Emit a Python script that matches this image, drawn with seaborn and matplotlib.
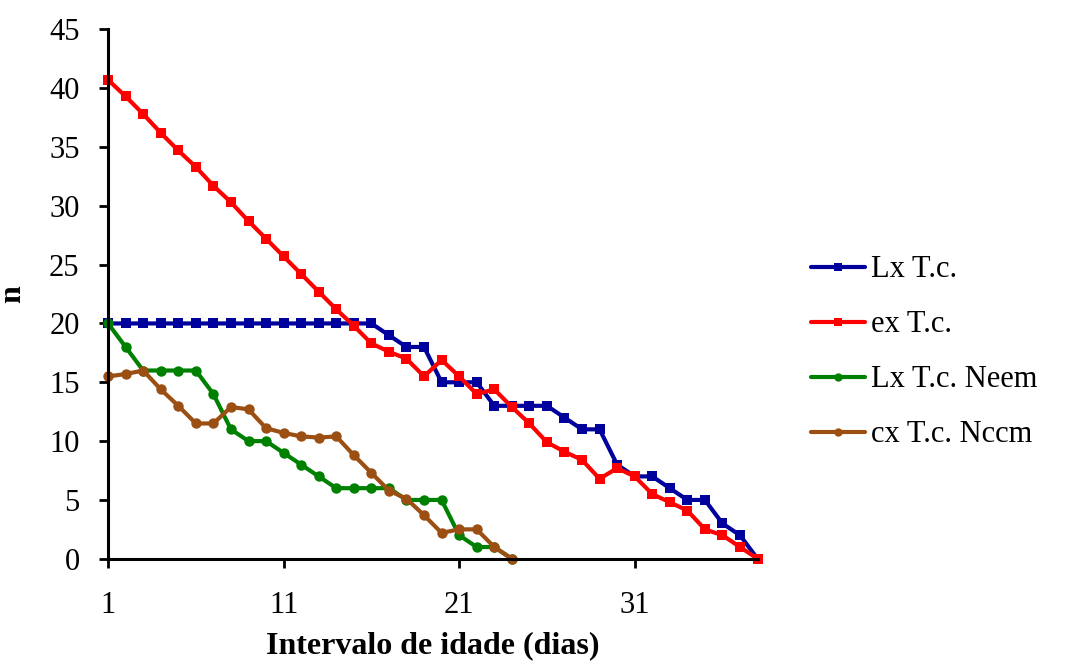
import pandas as pd
import matplotlib.pyplot as plt
import seaborn as sns

# idade (dias)
dias = list(range(1, 39))

lx_tc = [20, 20, 20, 20, 20, 20, 20, 20, 20, 20, 20, 20, 20, 20, 20, 20,
         19, 18, 18, 15, 15, 15, 13, 13, 13, 13, 12, 11, 11, 8, 7, 7, 6, 5, 5, 3, 2, 0]
ex_tc = [40.7, 39.3, 37.8, 36.2, 34.7, 33.3, 31.7, 30.3, 28.7, 27.2, 25.7, 24.2, 22.7,
         21.2, 19.8, 18.3, 17.6, 17.0, 15.5, 16.9, 15.5, 14.0, 14.4, 12.9, 11.5, 9.9,
         9.1, 8.4, 6.8, 7.7, 7.0, 5.5, 4.8, 4.1, 2.5, 2.0, 1.0, 0]
lx_neem = [20, 18, 16, 16, 16, 16, 14, 11, 10, 10, 9, 8, 7, 6, 6, 6, 6, 5, 5, 5, 2, 1, 1, 0]
ex_neem = [15.5, 15.7, 16.0, 14.4, 13.0, 11.5, 11.5, 12.9, 12.7, 11.1, 10.7, 10.4, 10.3,
           10.4, 8.8, 7.3, 5.8, 5.1, 3.7, 2.2, 2.5, 2.5, 1.0, 0]

series = [
    ("Lx T.c.", lx_tc, "#00009C", "s"),
    ("ex T.c.", ex_tc, "#FF0000", "s"),
    ("Lx T.c. Neem", lx_neem, "#008000", "o"),
    ("cx T.c. Nccm", ex_neem, "#9C4F12", "o"),
]

sns.set_style("ticks")
plt.rcParams['font.family'] = ['Liberation Serif', 'DejaVu Serif']
plt.rcParams.update({'text.color': 'black', 'axes.labelcolor': 'black',
                     'xtick.color': 'black', 'ytick.color': 'black',
                     'axes.edgecolor': 'black'})

fig = plt.figure(figsize=(10.7, 6.66), dpi=100)
ax = fig.add_axes([0.101, 0.161, 0.607, 0.795])

for name, vals, col, mk in series:
    df = pd.DataFrame({"dia": dias[:len(vals)], "n": vals})
    sns.lineplot(data=df, x="dia", y="n", ax=ax, color=col, marker=mk,
                 markersize=7.5, markeredgewidth=0, linewidth=3, label=name)

ax.set_xlim(1, 38)
ax.set_ylim(0, 45)
ax.set_xticks([1, 11, 21, 31])
ax.set_yticks(range(0, 46, 5))
ax.tick_params(labelsize=22, width=2, length=6.5, color='black')
ax.tick_params(axis='y', pad=14)
ax.tick_params(axis='x', pad=17)
for s in ['left', 'bottom']:
    ax.spines[s].set_linewidth(2.2)
sns.despine(ax=ax)
for line in ax.lines:
    line.set_clip_on(False)

ax.set_xlabel("Intervalo de idade (dias)", fontsize=23, fontweight='bold', labelpad=8)
ax.set_ylabel("n", fontsize=23, fontweight='bold', labelpad=16)

leg = ax.legend(loc='center left', bbox_to_anchor=(1.083, 0.39), frameon=False, fontsize=22,
                handlelength=1.75, handletextpad=0.2, labelspacing=0.85,
                borderaxespad=0, borderpad=0, markerscale=0.8)

fig.savefig("out.png", dpi=100)
